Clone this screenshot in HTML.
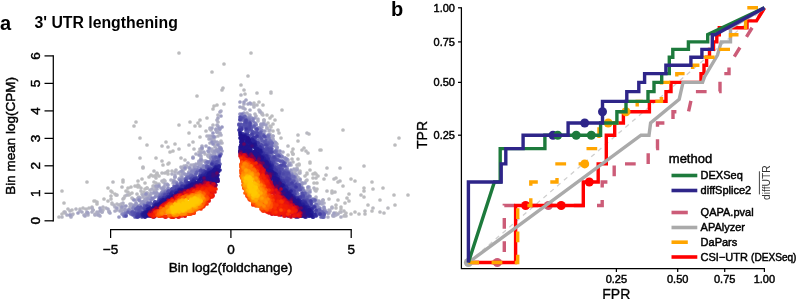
<!DOCTYPE html><html><head><meta charset="utf-8"><style>
html,body{margin:0;padding:0;background:#fff;width:800px;height:299px;overflow:hidden}
svg{display:block;filter:blur(0.35px)}
text{font-family:"Liberation Sans", sans-serif}
.t{stroke:#000;stroke-width:0.45px}
</style></head><body>
<svg width="800" height="299" viewBox="0 0 800 299">
<g stroke-linecap="round" stroke-width="3.70" fill="none">
<path stroke="#bcbcbe" d="M95 201h0M272 116h0M169 163h0M314 183h0M345 203h0M336 178h0M104 199h0M316 174h0M364 188h0M298 159h0M343 130h0M347 198h0M179 53h0M282 110h0M64 203h0M139 186h0M383 188h0M282 110h0M349 201h0M170 152h0M159 176h0M313 178h0M355 212h0M156 158h0M142 179h0M123 182h0M149 177h0M207 118h0M166 142h0M324 179h0M200 126h0M349 194h0M310 163h0M190 122h0M129 195h0M224 64h0M259 102h0M198 123h0M293 154h0M338 200h0M341 207h0M94 201h0M251 53h0M179 125h0M270 118h0M395 145h0M134 126h0M111 191h0M151 175h0M307 173h0M351 214h0M399 138h0M138 185h0M173 151h0M292 152h0M112 192h0M175 144h0M364 197h0M310 162h0M394 195h0M62 191h0M341 209h0M372 211h0M153 176h0M267 115h0M241 85h0M135 186h0M212 72h0M126 191h0M263 105h0M147 188h0M116 195h0M155 176h0M138 187h0M315 173h0M145 183h0M373 189h0M351 179h0M189 133h0M355 181h0M304 148h0M200 120h0M132 193h0M168 171h0M217 105h0M317 189h0M320 150h0M310 170h0M195 126h0M313 174h0M318 176h0M115 194h0M136 122h0M140 138h0M147 145h0M197 96h0M380 200h0M163 165h0M298 141h0M408 195h0M343 186h0M156 175h0M153 186h0M213 109h0M145 189h0M332 191h0M108 201h0M359 214h0M168 174h0M293 149h0M168 164h0M336 208h0M336 205h0M108 201h0M372 182h0M299 164h0M138 181h0M157 174h0M395 205h0M305 176h0M87 182h0M364 191h0M214 106h0M321 150h0M200 137h0M281 138h0M338 182h0M275 120h0M131 187h0M307 174h0M317 183h0M128 188h0M368 205h0M108 188h0M224 104h0"/>
<path stroke="#bbbbbf" d="M329 199h0M157 173h0M222 90h0M365 214h0M181 158h0M364 166h0M193 142h0M62 214h0M299 165h0M271 127h0M327 168h0M346 213h0M273 124h0M309 134h0M111 196h0M123 180h0M248 76h0M302 150h0M154 182h0M162 146h0M335 192h0M245 94h0M332 193h0M298 135h0M384 213h0M326 175h0M306 151h0M156 178h0M365 211h0M270 126h0M293 154h0M361 195h0M92 207h0M130 194h0M143 168h0M162 161h0M244 90h0M185 160h0M140 158h0M111 199h0M97 202h0"/>
<path stroke="#bababf" d="M271 93h0M125 196h0M308 153h0M143 167h0M340 181h0M141 188h0M162 173h0M271 92h0M122 187h0M179 149h0M340 212h0M300 171h0M168 147h0M323 200h0M206 131h0M380 212h0M113 182h0M154 171h0M292 159h0M340 168h0M257 93h0M334 179h0M273 131h0M59 217h0M223 88h0M80 209h0M128 192h0M165 173h0M64 212h0M316 178h0M72 210h0M327 191h0M345 215h0M167 172h0M97 204h0"/>
<path stroke="#babac0" d="M297 165h0M279 133h0M288 155h0M254 103h0M373 208h0M278 130h0M288 146h0M86 209h0M83 208h0M388 208h0M156 183h0M189 145h0M124 198h0M68 209h0M316 191h0M144 192h0M89 208h0M147 188h0M194 149h0M263 115h0M164 180h0"/>
<path stroke="#b9b9c0" d="M172 171h0M257 105h0M112 204h0M315 190h0M159 184h0M344 216h0M268 123h0M344 211h0M336 213h0M117 195h0M112 203h0M295 171h0M137 194h0M65 213h0M123 199h0"/>
<path stroke="#b8b8c1" d="M307 180h0M307 133h0M141 191h0M142 194h0M221 141h0M262 114h0M243 107h0M122 210h0M293 162h0M254 105h0M213 125h0M117 204h0M346 216h0M133 199h0M121 208h0"/>
<path stroke="#b6b6c2" d="M176 170h0M306 181h0M241 95h0M132 198h0M70 211h0M200 149h0M205 154h0M139 197h0M154 186h0M267 128h0M296 175h0M218 115h0M155 189h0M163 182h0M254 107h0M259 110h0M103 207h0M62 217h0M341 212h0M255 114h0M165 181h0M201 158h0M262 113h0M332 207h0M76 209h0M277 144h0M114 205h0M264 120h0M297 169h0M162 181h0M212 139h0M103 210h0M73 214h0M209 157h0M157 187h0M254 106h0M199 152h0M222 143h0"/>
<path stroke="#b3b3c2" d="M210 129h0M210 128h0M314 188h0M264 120h0M184 166h0M216 151h0M297 168h0M182 171h0M185 169h0M175 172h0M86 214h0M273 140h0M127 195h0M93 210h0M186 166h0M207 136h0M181 167h0M308 188h0M256 116h0M216 151h0M218 122h0M119 205h0M65 212h0M218 143h0M211 130h0M270 134h0M218 136h0M183 171h0M299 173h0M218 122h0M273 136h0M150 190h0M95 214h0M121 204h0M147 193h0M106 208h0M215 145h0M260 111h0"/>
<path stroke="#afafc4" d="M217 132h0M329 210h0M298 177h0M302 184h0M143 197h0M332 208h0M100 216h0M173 183h0M303 183h0M84 215h0M72 215h0M210 157h0M92 212h0M247 113h0M300 173h0M70 215h0M109 212h0M209 136h0M258 121h0M210 156h0M167 185h0M183 171h0M206 161h0M80 211h0M163 190h0M117 210h0M316 197h0M122 209h0M209 136h0M264 122h0M136 204h0M196 154h0M201 151h0M115 207h0M175 177h0M181 175h0M121 206h0M158 185h0M219 130h0M341 217h0M87 213h0M147 197h0M182 168h0M145 195h0M98 213h0M149 195h0M210 143h0M172 174h0M88 215h0M212 149h0M189 172h0M221 111h0M194 165h0M102 212h0M333 216h0M214 140h0M92 208h0M152 189h0M221 135h0M93 210h0M316 199h0M178 173h0M220 134h0M208 155h0M324 203h0M188 163h0M209 139h0M217 120h0"/>
<path stroke="#acacc4" d="M102 212h0M124 206h0M288 160h0M250 110h0M269 131h0M95 215h0M202 147h0M154 191h0M221 148h0M115 211h0M82 212h0M216 130h0M315 199h0M338 214h0M243 108h0M193 165h0M330 211h0M323 200h0M180 178h0M202 149h0M67 215h0M283 152h0M214 151h0M220 133h0M260 112h0M151 194h0M213 152h0M310 190h0M123 203h0M171 180h0M328 217h0M174 180h0M217 125h0M175 175h0M174 182h0M211 136h0M191 165h0M188 167h0M195 167h0M270 130h0M213 151h0M130 207h0M324 208h0M267 128h0M276 144h0M136 200h0M133 205h0M101 210h0M328 213h0M130 208h0M130 204h0M329 213h0M217 149h0M215 147h0M215 137h0M244 104h0M208 156h0M201 162h0M309 189h0M186 166h0M123 203h0M108 209h0M202 146h0M220 143h0M130 208h0M147 193h0M258 119h0M97 212h0M251 104h0M295 173h0M336 215h0M131 204h0M109 211h0M203 161h0M71 217h0M143 195h0M309 187h0M245 109h0M334 216h0M324 208h0M220 148h0M193 157h0"/>
<path stroke="#a6a6c4" d="M167 184h0M110 213h0M297 180h0M308 190h0M273 136h0M294 169h0M262 127h0M201 153h0M180 172h0M240 107h0M248 104h0M322 202h0M296 175h0M151 193h0M99 215h0M211 139h0M183 173h0M217 142h0M157 187h0M322 204h0M199 161h0M246 100h0M212 151h0M212 128h0M131 209h0M167 184h0M157 189h0M193 170h0M291 165h0M98 215h0M165 184h0M189 175h0M218 118h0M199 163h0M196 164h0M87 212h0M249 115h0M250 115h0M156 192h0M217 132h0M138 198h0M201 156h0M120 211h0M218 126h0M189 175h0M85 216h0M201 159h0M264 124h0M181 172h0M148 198h0M190 169h0M131 205h0M100 208h0M204 152h0M292 172h0M270 137h0M273 139h0M138 206h0M285 158h0M145 199h0M220 112h0M205 161h0M319 202h0M122 211h0M137 205h0M100 211h0M219 152h0M322 202h0M333 215h0M206 146h0M210 149h0M121 210h0M296 175h0M297 170h0M164 187h0M174 182h0"/>
<path stroke="#a0a0c3" d="M125 209h0M215 156h0M250 103h0M328 213h0M220 147h0M266 125h0M216 129h0M214 154h0M318 201h0M221 116h0M244 113h0M255 118h0M289 164h0M276 143h0M268 135h0M164 187h0M195 166h0M136 208h0M135 206h0M244 102h0M296 175h0M176 182h0M125 210h0M290 163h0M183 174h0M305 191h0M146 199h0M174 181h0M300 179h0M140 198h0M305 183h0M192 171h0M213 136h0M211 155h0M156 186h0M200 165h0M285 163h0M334 213h0M215 154h0M240 102h0M209 152h0M78 213h0M126 212h0M144 201h0M302 184h0M150 196h0M199 155h0M214 154h0M201 164h0M149 198h0M261 124h0M158 195h0M179 179h0M176 182h0M222 151h0M199 164h0M319 201h0M189 172h0M161 188h0M199 162h0M287 161h0M215 142h0M117 208h0M88 213h0M175 177h0M70 215h0M214 153h0"/>
<path stroke="#9898c2" d="M190 168h0M222 127h0M143 202h0M122 207h0M300 180h0M277 147h0M213 133h0M258 128h0M202 148h0M303 188h0M305 192h0M263 124h0M193 158h0M265 131h0M220 129h0M319 204h0M169 190h0M182 177h0M122 214h0M194 168h0M159 186h0M215 151h0M274 143h0M261 127h0M210 162h0M182 171h0M147 201h0M147 201h0M126 206h0M278 153h0M278 151h0M136 203h0M119 217h0M275 142h0M295 177h0M252 118h0M291 170h0M208 151h0M206 162h0M325 210h0M302 183h0M219 150h0M186 175h0M157 193h0M217 150h0M285 162h0M154 193h0M163 189h0M219 128h0M165 190h0M142 202h0M287 159h0M269 139h0M261 125h0M140 201h0M147 201h0M136 205h0M275 146h0M185 174h0M134 207h0M148 199h0M164 191h0M188 176h0M156 196h0M168 185h0"/>
<path stroke="#9292c1" d="M191 173h0M240 114h0M218 145h0M308 193h0M220 148h0M165 191h0M277 148h0M129 211h0M146 194h0M134 200h0M194 173h0M185 168h0M214 137h0M280 151h0M143 202h0M250 117h0M188 174h0M168 188h0M324 207h0M256 124h0M169 189h0M324 208h0M201 160h0M209 148h0M310 192h0M218 152h0M211 157h0M263 131h0M146 203h0M134 206h0M289 165h0M182 179h0M140 205h0M213 144h0M142 203h0M250 117h0M185 179h0M310 196h0M301 186h0M308 187h0M128 210h0M285 158h0M198 167h0M247 118h0M212 142h0M203 166h0M189 174h0M174 182h0M269 141h0M196 170h0"/>
<path stroke="#8a8ac0" d="M123 214h0M139 200h0M282 156h0M134 208h0M286 159h0M211 159h0M248 118h0M272 143h0M261 130h0M315 201h0M155 197h0M192 172h0M280 154h0M209 162h0M296 179h0M211 160h0M182 180h0M160 194h0M264 134h0M289 173h0M129 210h0M213 159h0M206 163h0M168 189h0M189 174h0M221 149h0M214 159h0M276 150h0M314 200h0M153 199h0M190 175h0M317 205h0M299 184h0M162 192h0M249 119h0M192 173h0"/>
<path stroke="#8484bf" d="M211 163h0M287 169h0M204 168h0M285 163h0M283 169h0M293 177h0M270 142h0M133 208h0M180 180h0M303 190h0M168 192h0M269 135h0M192 171h0M293 177h0M283 161h0M201 168h0M152 198h0M209 163h0M307 194h0M320 208h0M300 185h0M197 170h0M249 119h0M292 174h0M295 177h0M326 212h0M293 178h0M299 185h0M206 167h0M310 197h0M133 214h0M245 117h0M151 200h0M204 166h0M179 185h0M253 119h0M292 175h0M169 192h0M125 213h0M195 170h0M318 207h0M185 179h0M261 130h0M195 171h0M259 128h0M283 167h0"/>
<path stroke="#7c7bbc" d="M181 182h0M311 201h0M273 158h0M298 186h0M314 201h0M130 213h0M196 172h0M304 194h0M175 187h0M271 141h0M250 121h0M255 123h0M289 172h0M324 217h0M287 167h0M276 152h0M177 183h0M138 210h0M265 142h0M139 209h0M285 163h0M207 162h0M244 117h0M309 199h0M242 114h0M206 166h0M196 173h0M131 213h0M282 157h0M147 207h0M214 159h0M287 167h0M253 121h0M218 157h0M133 211h0M219 155h0M287 169h0M323 211h0M282 176h0M281 157h0M267 137h0M280 167h0M264 136h0M268 155h0M324 212h0M170 191h0M274 162h0M269 138h0M168 193h0M310 200h0M254 127h0M192 176h0M293 180h0M261 140h0M288 172h0M270 154h0M282 166h0M249 120h0M198 170h0M311 202h0M163 194h0M313 199h0M271 157h0M289 172h0M212 163h0M298 194h0M296 193h0M303 190h0M294 179h0M254 126h0M256 125h0M241 117h0M297 182h0M174 188h0M287 170h0"/>
<path stroke="#7272b9" d="M269 142h0M263 135h0M159 197h0M302 188h0M283 176h0M252 132h0M186 180h0M149 206h0M291 180h0M312 200h0M165 192h0M268 149h0M283 166h0M124 216h0M251 124h0M160 196h0M320 210h0M253 134h0M126 215h0M286 170h0M245 120h0M208 162h0M258 140h0M278 160h0M269 155h0M159 197h0M312 201h0M271 148h0M268 136h0M126 214h0M249 121h0M161 195h0M163 194h0M320 212h0M301 189h0M304 194h0M300 188h0M274 152h0M324 214h0M316 204h0M136 209h0M210 166h0M247 120h0M312 202h0M213 157h0M264 142h0M323 217h0M136 212h0M125 216h0M144 205h0M283 170h0M304 196h0M243 117h0M276 153h0M270 141h0M246 119h0M214 157h0M261 135h0M250 124h0M147 205h0M285 175h0M272 143h0M297 195h0M284 171h0M268 148h0M193 176h0M249 123h0M276 151h0M293 176h0M190 177h0M179 185h0M187 178h0M249 127h0M187 177h0M289 176h0M216 158h0M276 159h0M285 183h0M182 184h0M191 175h0M267 147h0M172 189h0M208 167h0M253 133h0"/>
<path stroke="#6a68b5" d="M301 188h0M277 164h0M322 212h0M272 143h0M307 198h0M286 175h0M291 177h0M272 151h0M148 203h0M245 116h0M251 127h0M138 209h0M294 177h0M283 162h0M288 172h0M128 212h0M174 186h0M272 149h0M297 192h0M270 143h0M304 194h0M293 189h0M179 187h0M141 209h0M189 177h0M168 193h0M293 185h0M278 155h0M291 176h0M260 135h0M136 215h0M275 159h0M151 203h0M271 144h0M275 152h0M207 166h0M291 176h0M159 199h0M140 209h0M305 195h0M131 214h0M177 185h0M278 171h0M320 211h0M264 150h0M193 179h0M264 150h0M245 122h0M279 174h0M321 215h0M261 132h0M310 201h0M261 144h0M267 157h0M316 211h0M299 185h0M213 161h0M285 172h0M204 171h0M319 210h0M242 120h0M139 212h0M272 155h0M258 141h0M250 129h0M187 179h0M278 159h0M252 134h0M290 182h0M213 165h0M271 155h0M302 196h0M214 159h0M293 187h0M263 135h0M293 187h0M309 196h0M304 195h0M169 191h0M133 212h0M272 146h0M221 154h0M148 204h0M192 176h0M321 217h0M288 180h0M219 162h0M195 176h0M140 211h0M284 165h0M267 144h0M241 119h0M212 164h0"/>
<path stroke="#605fb2" d="M266 140h0M247 125h0M181 183h0M182 184h0M254 132h0M303 195h0M168 191h0M287 181h0M305 193h0M297 188h0M249 122h0M168 193h0M136 209h0M286 171h0M295 186h0M191 178h0M244 125h0M248 131h0M204 172h0M293 182h0M262 139h0M254 126h0M258 134h0M317 210h0M212 163h0M263 146h0M275 160h0M150 203h0M270 147h0M319 210h0M324 215h0M298 187h0M161 197h0M186 179h0M286 172h0M197 172h0M266 149h0M282 161h0M280 171h0M266 144h0M138 207h0M300 189h0M303 197h0M247 124h0M251 129h0M269 148h0M249 127h0M207 166h0M272 163h0M145 208h0M137 213h0M299 185h0M135 217h0M219 158h0M277 168h0M219 159h0M266 152h0M274 157h0M218 163h0M215 163h0M283 175h0M216 157h0M257 134h0M196 174h0M307 199h0M219 160h0M304 204h0M274 167h0M286 179h0M263 141h0M271 152h0M321 214h0M151 204h0M262 141h0M257 132h0M281 169h0M305 199h0M290 182h0M323 213h0M290 180h0M247 133h0M255 139h0M307 197h0M256 133h0M240 128h0M141 208h0M276 158h0M220 164h0M281 161h0M251 127h0M248 126h0M298 189h0M322 215h0M296 198h0M174 188h0M260 133h0M163 195h0M289 176h0M214 166h0M315 200h0M303 195h0M163 196h0M245 121h0M276 156h0M317 215h0M266 144h0M284 177h0M293 190h0M323 217h0M137 213h0M269 152h0M268 143h0"/>
<path stroke="#5956af" d="M280 177h0M307 206h0M289 174h0M257 130h0M258 134h0M274 164h0M254 138h0M184 185h0M294 194h0M265 142h0M159 200h0M256 129h0M147 209h0M294 181h0M170 193h0M286 177h0M300 190h0M291 189h0M305 204h0M286 177h0M280 161h0M249 136h0M296 191h0M268 150h0M139 210h0M277 160h0M293 181h0M148 205h0M165 194h0M141 212h0M293 187h0M297 190h0M216 162h0M177 186h0M193 177h0M172 189h0M290 179h0M215 165h0M265 137h0M287 176h0M144 209h0M182 184h0M308 207h0M272 161h0M247 130h0M296 188h0M256 137h0M246 131h0M302 195h0M265 144h0M291 187h0M196 178h0M245 127h0M279 156h0M141 207h0M293 188h0M207 171h0M268 149h0M293 192h0M187 183h0M288 175h0M132 212h0M324 214h0M291 188h0M304 199h0M268 145h0M259 143h0M279 172h0M307 204h0M267 155h0M192 180h0M285 179h0M246 125h0M318 213h0M269 150h0M181 186h0M310 206h0M182 186h0M299 187h0M271 165h0M265 151h0M139 212h0M288 187h0M259 137h0M311 203h0M217 162h0M283 178h0M207 168h0M251 128h0M260 137h0M303 197h0M145 206h0M133 215h0M320 214h0M239 124h0M295 189h0M243 118h0M312 206h0M299 186h0M154 204h0M249 125h0M275 159h0M265 142h0M126 216h0M249 124h0M275 163h0M304 203h0M266 155h0M245 127h0M169 191h0M185 182h0M283 173h0M200 174h0M208 167h0M256 129h0M213 162h0M289 176h0M316 214h0M281 166h0M186 182h0M280 176h0M252 135h0M279 156h0M314 206h0M292 190h0M261 138h0M287 186h0M200 171h0M163 197h0M241 124h0"/>
<path stroke="#524fac" d="M215 164h0M241 118h0M140 213h0M206 172h0M272 159h0M274 166h0M271 163h0M303 198h0M302 197h0M280 173h0M168 192h0M286 173h0M157 202h0M291 186h0M270 149h0M279 172h0M246 121h0M288 183h0M264 136h0M294 190h0M286 175h0M284 163h0M202 172h0M261 145h0M293 187h0M199 177h0M254 133h0M195 178h0M211 168h0M135 213h0M196 178h0M269 161h0M316 211h0M284 183h0M307 202h0M257 129h0M271 158h0M273 164h0M213 163h0M240 128h0M270 162h0M285 166h0M269 158h0M155 202h0M209 168h0M272 152h0M291 191h0M216 164h0M293 194h0M306 203h0M274 166h0M171 194h0M175 187h0M240 119h0M284 172h0M246 126h0M136 214h0M277 168h0M307 202h0M302 193h0M303 195h0M214 166h0M296 184h0M276 167h0M288 173h0M289 183h0M288 179h0M172 189h0M280 175h0M267 148h0M160 198h0M246 124h0M275 159h0M239 125h0M279 166h0M293 188h0M285 182h0M279 166h0M307 200h0M278 168h0M209 168h0M282 178h0M240 117h0M144 208h0M280 172h0M282 169h0M194 181h0M271 149h0M273 161h0M248 132h0M135 214h0M300 197h0M176 190h0M242 127h0M167 195h0M192 180h0M287 184h0M252 131h0M277 167h0M310 201h0M168 196h0M280 167h0M217 161h0M241 130h0M257 133h0M179 192h0M265 149h0M249 136h0M308 207h0M290 184h0M188 183h0M180 188h0M139 216h0M171 191h0M164 198h0M201 170h0M244 124h0M204 171h0"/>
<path stroke="#4b47a9" d="M289 179h0M205 171h0M166 196h0M166 197h0M192 181h0M141 214h0M246 120h0M287 183h0M276 168h0M250 123h0M286 184h0M177 190h0M282 165h0M162 199h0M178 187h0M284 183h0M263 149h0M290 184h0M285 180h0M178 187h0M266 145h0M282 179h0M191 179h0M303 196h0M289 183h0M264 150h0M177 187h0M249 129h0M294 185h0M274 157h0M139 216h0M298 198h0M164 197h0M263 151h0M273 167h0M248 128h0M192 180h0M279 174h0M292 194h0M269 152h0M278 171h0M279 169h0M287 178h0M307 207h0M271 162h0M250 125h0M208 171h0M295 194h0M203 171h0M267 154h0M280 179h0M283 174h0M273 162h0M315 207h0M300 198h0M268 149h0M299 198h0M167 195h0M163 201h0M275 167h0M217 165h0M137 215h0M267 158h0M249 128h0M242 134h0M155 202h0M196 178h0M262 145h0M165 195h0M173 191h0M150 207h0M265 151h0M260 151h0M258 143h0M241 127h0M174 191h0M186 181h0M175 191h0M267 156h0M247 133h0M163 200h0M209 169h0M269 156h0M295 194h0M240 120h0M281 165h0M248 135h0M145 209h0M271 152h0M246 122h0"/>
<path stroke="#443fa6" d="M311 201h0M305 201h0M138 214h0M285 187h0M262 151h0M292 190h0M293 195h0M299 198h0M216 168h0M276 171h0M290 189h0M193 180h0M311 209h0M320 214h0M142 217h0M284 181h0M147 206h0M162 199h0M209 171h0M303 202h0M271 163h0M300 197h0M216 165h0M272 164h0M140 215h0M277 175h0M288 185h0M187 183h0M209 169h0M252 138h0M188 183h0M303 202h0M287 181h0M258 143h0M266 154h0M169 195h0M269 161h0M294 191h0M264 153h0M155 202h0M289 189h0M213 169h0M247 136h0M280 177h0M262 150h0M294 194h0M262 148h0M297 199h0M259 146h0M255 138h0M154 204h0M264 155h0M280 172h0M253 138h0M149 209h0M302 203h0M316 210h0M160 200h0M138 217h0M283 181h0M252 138h0M307 204h0M278 173h0M211 169h0M179 190h0M284 184h0M252 134h0M220 156h0M165 199h0M292 183h0M163 198h0M286 181h0M306 205h0M206 172h0M288 189h0M311 204h0M243 134h0M296 200h0M257 143h0M258 146h0"/>
<path stroke="#3d38a3" d="M274 168h0M143 212h0M188 183h0M217 166h0M306 206h0M274 172h0M283 181h0M142 215h0M264 155h0M203 175h0M276 174h0M268 158h0M215 167h0M280 180h0M272 165h0M219 166h0M149 207h0M212 164h0M262 152h0M267 160h0M184 186h0M246 129h0M176 190h0M181 190h0M137 217h0M242 129h0M300 200h0M211 171h0M251 141h0M257 136h0M276 170h0M149 207h0M168 196h0M274 169h0M306 208h0M296 187h0M179 190h0M257 143h0M247 135h0M145 216h0M275 172h0M271 163h0M149 208h0M169 194h0M169 197h0M145 217h0M278 180h0M262 155h0M247 149h0M193 183h0M268 162h0M274 170h0M176 193h0M201 176h0M241 134h0M292 194h0M270 170h0M148 207h0M314 207h0M286 187h0M205 172h0M279 174h0M254 137h0M312 216h0M158 202h0M146 210h0M204 176h0M148 209h0M184 187h0M298 198h0M194 182h0M240 132h0M302 202h0M289 192h0M313 217h0M139 216h0M312 211h0M278 177h0M304 204h0M250 139h0M272 165h0M308 208h0M299 203h0M275 172h0M281 182h0M275 171h0M265 156h0M290 193h0M289 193h0M155 206h0M158 203h0M184 187h0M255 141h0M263 154h0"/>
<path stroke="#3731a0" d="M244 134h0M189 183h0M203 174h0M306 209h0M308 216h0M283 183h0M305 216h0M265 156h0M161 201h0M301 203h0M249 140h0M307 205h0M193 181h0M219 167h0M191 182h0M172 194h0M182 186h0M249 140h0M174 192h0M216 168h0M179 189h0M312 209h0M192 183h0M303 201h0M206 172h0M275 174h0M305 202h0M285 188h0M203 176h0M206 173h0M193 181h0M164 198h0M159 202h0M308 210h0M254 147h0M288 192h0M179 191h0M215 167h0M239 130h0M295 197h0M241 133h0M266 158h0M254 144h0M280 180h0M290 193h0M310 208h0M265 157h0M302 205h0M286 189h0M284 183h0M263 153h0M194 179h0M267 156h0M250 142h0M279 181h0M308 209h0M266 158h0M286 186h0M313 217h0M269 163h0M196 179h0M288 191h0M306 217h0M301 203h0M287 191h0M194 180h0M269 165h0M244 137h0M191 184h0M281 184h0M200 176h0M147 210h0M315 216h0M206 175h0M192 183h0M154 207h0M260 147h0M181 188h0M218 167h0M142 215h0M203 175h0M172 193h0M297 198h0M258 148h0M268 161h0M157 203h0M308 208h0M176 191h0M188 185h0M167 198h0M302 202h0M274 172h0M246 140h0M316 216h0M266 163h0M282 189h0M184 189h0M245 136h0M145 216h0M272 165h0M262 157h0"/>
<path stroke="#302a9c" d="M161 200h0M272 166h0M268 166h0M217 169h0M286 187h0M210 173h0M209 170h0M245 135h0M287 188h0M278 179h0M213 170h0M307 213h0M315 214h0M208 175h0M158 206h0M167 197h0M200 179h0M258 149h0M242 135h0M312 215h0M171 196h0M267 160h0M209 172h0M209 172h0M171 195h0M261 152h0M144 216h0M185 187h0M252 139h0M195 182h0M164 200h0M269 162h0M253 145h0M277 176h0M144 213h0M302 203h0M244 137h0M213 174h0M275 178h0M258 151h0M181 189h0M261 150h0M194 184h0M271 165h0M274 173h0M275 174h0M250 152h0M312 209h0M307 209h0M295 198h0M163 200h0M301 204h0M288 191h0M305 203h0M267 159h0M214 170h0M289 193h0M309 215h0M310 210h0M172 192h0M257 149h0M308 208h0M142 214h0M245 136h0M163 200h0M181 189h0M211 171h0M188 188h0M178 192h0M243 135h0M259 151h0M278 177h0M146 213h0M255 145h0M309 212h0M261 150h0M313 217h0M266 156h0M177 192h0M268 170h0M298 199h0M212 170h0M305 216h0M193 181h0M147 215h0M251 141h0M246 135h0M268 159h0M272 168h0M284 189h0M219 167h0M289 196h0M274 174h0M176 193h0M247 138h0M144 213h0M281 182h0M255 144h0M250 151h0M280 181h0M285 187h0M313 215h0"/>
<path stroke="#282298" d="M305 206h0M178 192h0M305 207h0M196 183h0M304 211h0M275 177h0M266 160h0M309 216h0M255 145h0M271 166h0M212 178h0M158 204h0M277 184h0M247 151h0M268 166h0M272 174h0M300 201h0M272 171h0M214 171h0M309 214h0M169 198h0M149 211h0M155 205h0M300 203h0M143 215h0M214 183h0M245 149h0M219 171h0M296 204h0M284 186h0M291 198h0M295 202h0M268 168h0M307 207h0M251 140h0M207 173h0M248 141h0M202 176h0M206 175h0M309 213h0M256 153h0M290 192h0M163 200h0M309 211h0M255 142h0M171 194h0M280 187h0M204 179h0M211 174h0M189 187h0M210 173h0M246 146h0M284 187h0M271 177h0M267 166h0M285 192h0M209 174h0M205 175h0M308 207h0M258 152h0M303 204h0M246 144h0M305 206h0M179 190h0M284 189h0M307 215h0M150 208h0M220 170h0M199 181h0M189 186h0M270 168h0M241 135h0M219 166h0M263 156h0M307 212h0M269 169h0M257 149h0M265 166h0M258 152h0M190 184h0M293 198h0M169 200h0M159 204h0M207 179h0M281 188h0M241 137h0M291 191h0M281 186h0M267 165h0M242 138h0M146 216h0M146 214h0M169 197h0M253 145h0M283 186h0M303 209h0M254 143h0M256 146h0M194 181h0M154 206h0M209 175h0M200 182h0M211 172h0M252 153h0M205 177h0M277 179h0M216 171h0M293 196h0M310 214h0M177 194h0M283 186h0M306 213h0M218 168h0M190 185h0M254 152h0M300 207h0M293 197h0M156 204h0M176 196h0M265 160h0M310 215h0M186 186h0M159 205h0M240 135h0M260 151h0M253 140h0M271 167h0M206 177h0M312 212h0M193 182h0M307 208h0M172 196h0M263 161h0M265 164h0"/>
<path stroke="#221c94" d="M169 197h0M298 203h0M153 208h0M207 179h0M204 183h0M209 178h0M310 216h0M216 167h0M145 217h0M180 190h0M172 196h0M305 217h0M213 178h0M258 150h0M213 171h0M276 174h0M266 166h0M306 214h0M192 187h0M205 177h0M271 169h0M307 212h0M305 210h0M145 212h0M149 210h0M246 138h0M212 172h0M249 142h0M286 194h0M286 192h0M162 201h0M253 153h0M145 212h0M163 200h0M241 136h0M270 166h0M303 205h0M284 190h0M303 206h0M254 155h0M274 178h0M152 209h0M272 172h0M270 167h0M261 159h0M282 187h0M280 183h0M277 179h0M304 209h0M145 215h0M275 174h0M251 145h0M189 188h0M149 214h0M210 177h0M261 158h0M259 154h0M244 147h0M211 172h0M301 210h0M258 149h0M267 167h0M306 207h0M244 138h0M254 152h0M258 158h0M211 178h0M309 215h0M269 169h0M211 173h0M144 216h0M244 137h0M284 191h0M247 148h0M213 180h0M242 141h0M277 185h0M269 164h0M276 176h0M262 162h0M249 142h0M283 188h0M243 142h0M293 202h0M267 163h0M148 209h0M250 146h0M269 164h0M158 205h0M289 199h0M215 169h0M284 189h0M264 158h0M310 214h0M246 145h0M265 163h0M243 148h0M206 177h0M261 152h0M279 185h0M304 207h0M177 193h0M291 197h0M260 150h0M300 204h0M208 178h0M143 214h0M312 213h0M308 215h0M294 198h0M146 216h0M251 150h0M201 179h0M243 142h0M294 200h0M248 140h0M286 194h0M143 215h0M143 215h0M255 155h0M216 177h0M241 142h0M146 214h0M291 199h0M306 215h0M279 190h0M255 153h0M209 181h0M215 182h0M274 178h0M276 176h0M209 179h0M279 181h0M259 156h0M214 182h0"/>
<path stroke="#1e1791" d="M198 185h0M280 189h0M242 148h0M183 190h0M250 150h0M244 137h0M247 146h0M311 215h0M147 212h0M149 211h0M255 144h0M214 170h0M257 149h0M283 185h0M276 179h0M246 144h0M213 172h0M258 161h0M213 175h0M288 195h0M241 137h0M252 146h0M145 214h0M206 183h0M208 175h0M294 202h0M246 138h0M309 214h0M298 202h0M256 149h0M274 175h0M161 202h0M241 145h0M165 202h0M294 199h0M164 200h0M196 183h0M208 181h0M242 139h0M198 182h0M270 176h0M274 183h0M248 148h0M277 180h0M275 178h0M208 180h0M150 213h0M242 145h0M305 208h0M254 157h0M273 178h0M249 147h0M286 192h0M269 166h0M265 161h0M209 173h0M309 211h0M258 157h0M294 201h0M177 193h0M256 155h0M277 185h0M179 192h0M248 138h0M280 185h0M292 204h0M291 196h0M257 153h0M244 150h0M154 209h0M207 179h0M254 161h0M176 193h0M245 146h0M253 158h0M287 192h0M209 184h0M255 148h0M279 187h0M240 133h0M267 170h0M204 181h0M243 152h0M299 203h0M299 202h0M215 180h0M306 210h0M242 145h0M188 186h0M298 200h0M250 151h0M261 157h0M251 143h0M144 214h0M278 186h0M210 178h0M208 178h0M277 180h0M279 187h0M217 170h0M215 177h0M247 151h0M244 156h0M145 215h0M309 210h0M203 182h0M189 186h0M194 184h0M290 199h0M286 195h0M306 214h0M290 198h0M275 179h0M241 136h0M254 156h0M255 145h0M253 153h0M284 193h0M201 178h0M264 164h0M257 154h0M214 180h0M167 199h0M260 155h0M292 199h0M275 180h0M306 210h0M265 165h0M198 182h0M191 185h0M269 170h0M241 138h0M271 171h0M299 202h0M262 164h0M148 212h0M202 184h0M255 151h0M283 194h0M297 203h0M215 171h0M291 200h0M188 187h0M256 152h0M204 184h0M251 153h0M306 214h0M282 192h0M147 215h0M147 215h0M212 176h0M162 203h0M215 183h0M304 212h0M283 191h0M195 184h0M157 206h0M212 180h0M260 163h0M246 141h0M244 144h0M249 140h0M274 177h0M293 202h0M260 151h0M212 176h0M246 150h0M304 213h0M292 199h0M248 151h0M303 216h0M254 156h0M242 151h0M249 151h0M212 176h0M268 174h0M249 143h0"/>
<path stroke="#201590" d="M266 164h0M265 163h0M215 177h0M209 175h0M242 145h0M292 198h0M312 216h0M252 145h0M298 204h0M243 147h0M205 179h0M244 137h0M212 172h0M286 190h0M245 136h0M256 156h0M277 183h0M280 191h0M251 154h0M278 187h0M252 155h0M255 158h0M148 215h0M146 213h0M211 183h0M265 171h0M246 138h0M218 179h0M272 172h0M196 185h0M253 158h0M248 150h0M247 139h0M281 189h0M159 204h0M242 148h0M148 214h0M270 172h0M252 155h0M199 180h0M249 146h0M268 175h0M170 198h0M287 193h0M281 194h0M274 173h0M253 145h0M218 172h0M293 202h0M243 140h0M217 177h0M294 202h0M252 145h0M216 176h0M274 182h0M276 183h0M241 142h0M254 156h0M247 140h0M246 152h0M299 207h0M147 215h0M307 213h0M268 166h0M249 140h0M159 208h0M248 150h0M162 203h0M245 148h0M241 140h0M286 194h0M218 175h0M304 210h0M286 194h0M258 157h0M206 182h0M275 183h0M211 173h0M171 198h0M304 212h0M161 203h0M149 212h0M243 147h0M240 138h0M250 155h0M291 195h0M215 180h0M153 208h0M267 164h0M271 176h0M191 186h0M215 171h0M248 147h0M250 146h0M156 205h0M300 210h0M300 207h0M295 204h0M301 208h0M173 197h0M280 188h0M301 209h0M262 157h0M217 177h0M275 181h0M298 204h0M297 202h0M189 190h0M256 154h0M276 179h0M304 207h0M296 203h0M217 181h0M286 195h0M242 151h0M303 211h0M282 191h0M245 148h0M254 145h0M301 210h0M202 183h0M300 207h0M214 173h0M190 188h0M275 182h0M207 180h0M271 177h0M295 200h0M267 164h0M268 173h0M253 159h0M244 147h0M247 139h0M267 168h0M183 191h0M286 198h0M275 181h0M146 214h0M251 148h0M196 183h0M308 210h0M300 205h0M296 206h0M194 187h0M265 165h0M198 183h0M258 160h0M216 172h0M275 181h0M197 186h0M242 146h0M269 171h0M293 205h0M286 198h0M164 203h0M215 169h0M257 153h0M240 152h0M263 165h0M260 163h0M183 191h0M192 188h0M306 211h0M180 191h0M268 167h0M204 179h0M210 176h0M286 192h0M252 144h0M203 182h0M272 177h0M282 185h0M275 182h0M295 203h0"/>
<path stroke="#21138e" d="M253 145h0M197 186h0M271 180h0M304 212h0M249 154h0M280 187h0M169 200h0M297 204h0M215 181h0M297 202h0M278 179h0M250 144h0M310 215h0M296 201h0M161 204h0M257 157h0M199 184h0M291 201h0M276 186h0M252 152h0M215 180h0M277 188h0M208 180h0M201 179h0M184 191h0M242 150h0M276 184h0M193 186h0M296 203h0M307 211h0M243 136h0M246 148h0M211 177h0M190 186h0M251 145h0M296 204h0M178 195h0M200 184h0M304 212h0M303 213h0M303 208h0M152 211h0M289 193h0M263 163h0M218 170h0M214 176h0M270 173h0M198 185h0M194 187h0M241 136h0M255 151h0M271 177h0M310 210h0M147 212h0M277 182h0M242 144h0M287 197h0M270 179h0M215 173h0M275 178h0M247 147h0M218 181h0M214 182h0M246 152h0M262 163h0M186 188h0M241 151h0M306 214h0M241 151h0M257 155h0M148 213h0M287 199h0M204 184h0M269 182h0M158 206h0M240 150h0M215 181h0M292 201h0M240 148h0M280 187h0M211 180h0M303 207h0M206 179h0M210 181h0M259 156h0M272 172h0M216 177h0M275 184h0M265 169h0M305 211h0M264 170h0M246 153h0M299 207h0M302 216h0M214 177h0M240 147h0M292 200h0M283 195h0M210 177h0M204 178h0M150 213h0M296 208h0M301 208h0M270 176h0M296 204h0M185 191h0M212 178h0M159 205h0M275 182h0M156 207h0M284 195h0M196 186h0M289 197h0M298 207h0M247 150h0M258 154h0M242 148h0M204 180h0M255 156h0M299 209h0M215 182h0M167 200h0M267 168h0M276 189h0M212 183h0M202 185h0M273 183h0M147 213h0"/>
<path stroke="#22118d" d="M300 211h0M267 162h0M303 213h0M248 156h0M274 178h0M242 141h0M192 184h0M289 199h0M242 140h0M175 195h0M241 145h0M262 159h0M291 197h0M302 213h0M273 183h0M202 185h0M265 168h0M284 199h0M160 204h0M269 176h0M283 192h0M268 172h0M245 155h0M149 215h0M177 196h0M280 191h0M299 209h0M286 197h0M263 163h0M281 192h0M158 207h0M259 163h0M248 156h0M275 192h0M164 204h0M293 201h0M199 186h0M162 204h0M173 198h0M150 215h0M260 161h0M268 165h0M268 170h0M183 193h0M274 182h0M190 187h0M303 208h0M160 205h0M166 202h0M248 141h0M193 186h0M262 160h0M271 178h0M244 144h0M247 155h0M194 187h0M207 178h0M249 151h0M217 177h0M189 189h0M260 161h0M240 152h0M243 143h0M148 216h0M277 188h0M286 199h0M275 188h0M252 160h0M262 158h0M294 203h0M248 138h0M194 186h0M211 180h0M287 194h0M290 200h0M261 163h0M194 186h0M185 190h0M249 154h0M162 203h0M178 194h0M242 144h0M285 199h0M217 177h0M267 169h0M301 216h0M173 196h0M270 178h0M197 183h0M274 181h0M276 181h0M241 146h0M186 191h0M280 194h0M247 151h0M281 187h0M249 153h0M254 158h0M250 156h0M182 190h0M261 167h0M262 165h0M294 206h0M174 196h0M302 213h0M277 191h0M246 154h0M264 171h0M279 190h0M246 151h0M299 208h0M296 204h0M259 161h0M153 210h0M198 185h0M251 157h0M302 210h0M263 171h0M284 198h0M273 186h0M215 185h0"/>
<path stroke="#370d7e" d="M278 190h0M279 186h0M169 200h0M201 186h0M275 188h0M279 186h0M295 207h0M176 196h0M168 201h0M206 181h0M252 156h0M292 198h0M264 173h0M168 200h0M298 216h0M204 181h0M240 151h0M250 156h0M204 182h0M296 217h0M213 174h0M189 189h0M280 194h0M155 209h0M267 167h0M297 207h0M255 161h0M248 158h0M259 157h0M199 185h0M213 176h0M182 192h0M175 197h0M284 193h0M211 183h0M274 185h0M277 189h0M298 217h0M216 175h0M191 188h0M305 216h0M293 205h0M279 188h0M273 184h0M256 162h0M277 190h0M152 212h0M296 207h0M270 178h0M265 166h0M290 201h0M280 183h0M218 181h0M295 204h0M195 187h0M275 191h0M202 184h0M274 190h0M265 172h0M275 183h0M157 208h0M181 194h0M252 146h0M243 157h0M249 158h0M304 212h0M212 183h0M184 192h0M303 214h0M291 206h0M154 217h0M261 162h0M199 184h0M198 187h0M262 171h0M296 207h0M265 172h0M293 214h0M151 212h0M250 159h0M302 215h0M152 214h0M276 188h0M151 216h0M195 185h0M282 195h0M242 153h0M273 184h0M298 211h0M272 174h0M249 157h0"/>
<path stroke="#620663" d="M204 178h0M290 203h0M291 203h0M185 191h0M197 186h0M258 160h0M263 163h0M277 191h0M297 209h0M216 185h0M270 174h0M156 210h0M168 201h0M301 208h0M175 196h0M296 208h0M297 207h0M275 188h0M194 189h0M268 178h0M264 169h0M269 177h0M156 208h0M268 174h0M241 152h0M270 178h0M284 199h0M197 187h0M254 161h0M180 192h0M203 185h0M217 173h0M249 156h0M203 184h0M159 209h0M265 173h0M264 169h0M244 144h0M204 183h0M278 192h0M183 194h0M185 193h0M274 188h0M297 207h0M197 185h0M177 197h0M277 186h0M283 199h0M293 206h0M300 212h0M259 159h0M201 185h0M165 203h0M163 205h0M210 184h0M285 199h0M269 178h0M159 208h0M253 157h0M154 211h0M263 170h0M188 190h0M189 192h0M211 183h0M294 207h0M194 188h0M271 184h0M270 177h0M184 191h0M291 200h0M281 194h0M254 158h0M151 212h0M251 159h0M195 186h0M264 170h0M195 189h0M264 170h0M290 203h0M150 216h0M242 155h0M288 201h0M301 215h0M288 216h0M259 167h0M246 154h0M248 157h0M152 210h0M151 212h0M208 184h0M156 209h0M176 196h0M173 198h0M251 154h0M171 199h0M244 156h0M202 186h0"/>
<path stroke="#8c0048" d="M168 200h0M300 213h0M300 216h0M210 183h0M183 193h0M252 159h0M277 191h0M192 192h0M295 209h0M189 192h0M254 159h0M252 156h0M291 206h0M266 173h0M297 207h0M202 186h0M182 193h0M276 188h0M169 201h0M270 176h0M163 205h0M150 215h0M280 193h0M215 186h0M212 184h0M260 163h0M272 185h0M278 191h0M301 213h0M194 188h0M258 162h0M261 165h0M183 194h0M259 165h0M248 158h0M175 196h0M291 205h0M185 194h0M243 155h0M152 216h0M257 162h0M156 208h0M294 216h0M241 155h0M293 205h0M155 216h0M292 209h0M161 206h0M180 196h0M299 211h0M150 212h0M214 184h0M275 188h0M211 185h0M276 211h0M280 193h0M268 179h0M209 183h0M266 174h0M163 205h0M179 216h0M195 189h0M281 214h0M277 192h0M212 184h0M298 208h0M250 158h0M164 204h0M185 191h0M205 187h0M209 194h0M251 160h0M288 203h0M263 172h0M209 185h0M245 155h0M281 215h0M285 202h0M261 172h0M293 215h0M215 187h0M205 182h0M277 193h0"/>
<path stroke="#aa0237" d="M281 189h0M261 166h0M282 200h0M190 190h0M264 172h0M253 161h0M285 203h0M166 204h0M193 190h0M246 156h0M299 214h0M279 194h0M283 197h0M200 185h0M257 165h0M293 205h0M287 203h0M278 194h0M265 175h0M273 189h0M290 204h0M278 193h0M289 204h0M263 175h0M272 186h0M297 208h0M257 164h0M164 204h0M275 214h0M291 202h0M286 215h0M271 184h0M200 188h0M184 193h0M278 206h0M289 203h0M272 214h0M286 200h0M202 188h0M261 168h0M277 193h0M153 214h0M169 201h0M286 209h0M283 197h0M170 201h0M206 186h0M263 171h0M272 186h0M289 203h0M273 188h0M206 189h0M288 202h0M188 192h0M279 192h0M206 183h0M243 155h0M258 168h0M283 206h0M282 199h0M155 211h0M258 167h0M215 188h0M240 154h0M286 215h0M212 192h0M284 198h0M286 214h0M203 188h0M188 194h0M261 166h0M194 189h0M273 187h0M297 212h0M241 154h0M176 216h0M298 214h0M279 201h0M287 205h0M158 210h0M268 182h0M204 185h0M273 187h0M278 199h0M180 196h0M272 187h0M297 214h0M292 212h0M172 199h0M164 206h0"/>
<path stroke="#c80426" d="M214 184h0M273 188h0M272 213h0M263 173h0M149 214h0M272 210h0M271 213h0M207 185h0M154 213h0M177 196h0M274 191h0M188 191h0M212 193h0M213 185h0M268 179h0M291 217h0M277 211h0M283 203h0M271 187h0M251 160h0M295 213h0M192 189h0M285 200h0M155 213h0M200 188h0M289 207h0M170 201h0M275 200h0M271 182h0M210 196h0M267 177h0M273 209h0M277 196h0M213 184h0M269 186h0M246 157h0M288 203h0M267 180h0M256 165h0M296 215h0M282 205h0M259 165h0M282 211h0M245 155h0M291 209h0M277 199h0M279 209h0M275 191h0M166 203h0M300 213h0M274 190h0M247 159h0M271 185h0M268 178h0M276 210h0M162 208h0M271 183h0M273 199h0M165 217h0M201 188h0M154 214h0M243 156h0M266 183h0M160 208h0M291 210h0M161 207h0M293 210h0M285 205h0M288 212h0M279 194h0M250 162h0M291 208h0M153 212h0M284 208h0M170 201h0M181 196h0M272 213h0M269 180h0M246 158h0M293 208h0M154 210h0M197 186h0M299 216h0M261 168h0M294 208h0M180 197h0M197 188h0M253 161h0M285 216h0M271 190h0M278 212h0M272 186h0M208 195h0M182 195h0M300 216h0M261 171h0M277 198h0M269 184h0M252 162h0M286 204h0M178 195h0M210 191h0M277 207h0M273 206h0M294 214h0M201 186h0M172 217h0M283 200h0M177 199h0M292 207h0M205 186h0M278 208h0M210 193h0"/>
<path stroke="#db081a" d="M281 198h0M190 192h0M166 217h0M256 167h0M252 160h0M264 177h0M280 197h0M214 191h0M210 192h0M294 215h0M267 176h0M286 202h0M169 201h0M283 210h0M272 187h0M286 204h0M205 190h0M273 209h0M204 186h0M265 177h0M279 202h0M244 157h0M272 191h0M189 192h0M279 213h0M172 199h0M273 190h0M264 177h0M275 197h0M274 211h0M198 187h0M257 167h0M262 168h0M295 207h0M264 170h0M291 205h0M213 188h0M299 216h0M270 193h0M280 200h0M277 193h0M209 201h0M274 207h0M208 185h0M282 203h0M167 203h0M182 195h0M289 207h0M244 155h0M210 197h0M212 196h0M279 200h0M199 187h0M263 175h0M208 183h0M200 188h0M259 172h0M267 184h0M278 200h0M280 199h0M164 205h0M155 212h0M251 162h0M272 198h0M197 192h0M270 189h0M269 189h0M293 215h0M272 190h0M282 209h0M281 197h0M249 159h0M278 202h0M268 190h0M284 215h0M192 192h0M272 198h0M191 191h0M155 214h0M296 216h0M288 204h0M281 207h0M282 206h0M286 203h0M251 161h0M209 188h0M173 217h0M156 211h0M190 192h0M266 177h0M296 215h0M272 213h0M207 186h0M280 213h0M182 216h0M198 188h0M156 211h0M295 210h0M288 207h0M287 211h0M257 168h0M283 204h0M178 216h0M206 187h0M243 158h0M287 205h0M280 211h0M178 217h0M187 195h0M269 184h0M266 178h0M207 192h0M272 198h0M288 215h0M214 190h0M281 212h0M266 190h0M265 184h0M175 199h0M163 205h0M178 198h0M281 201h0M261 171h0M212 188h0M155 216h0M253 165h0M242 162h0M273 192h0M292 215h0M294 210h0"/>
<path stroke="#e20e13" d="M268 186h0M279 201h0M277 214h0M262 173h0M207 185h0M274 206h0M161 209h0M260 172h0M213 191h0M269 212h0M153 217h0M261 171h0M195 192h0M152 214h0M280 201h0M284 209h0M176 200h0M273 212h0M287 203h0M240 156h0M210 187h0M185 215h0M261 176h0M277 206h0M263 174h0M277 196h0M255 164h0M283 208h0M284 200h0M293 210h0M285 207h0M274 206h0M266 186h0M291 206h0M185 216h0M248 161h0M279 198h0M272 212h0M266 211h0M276 203h0M289 208h0M284 206h0M259 169h0M289 216h0M289 208h0M199 191h0M155 214h0M278 214h0M278 214h0M260 166h0M271 212h0M282 213h0M287 210h0M279 209h0M271 189h0M274 203h0M276 210h0M273 212h0M272 214h0M267 190h0M278 193h0M199 188h0M213 188h0M272 192h0M198 192h0M275 201h0M295 212h0M259 167h0M210 186h0M294 209h0M206 195h0M159 216h0M299 214h0M165 205h0M202 187h0M198 190h0M282 204h0M278 211h0M276 190h0M207 189h0M212 192h0M296 211h0M285 214h0M268 181h0M268 185h0M295 212h0M279 204h0M266 186h0M176 197h0M268 212h0M213 190h0M254 168h0M295 214h0M264 181h0M267 187h0M200 189h0M290 210h0M283 208h0M286 210h0M262 170h0M261 174h0M191 193h0M255 166h0M242 159h0M210 197h0M282 203h0M179 217h0M287 208h0M262 175h0M272 199h0M248 161h0M255 164h0M270 186h0M277 208h0M171 216h0M213 196h0M283 212h0M157 211h0M261 176h0M193 190h0M286 209h0M251 163h0M261 179h0M156 211h0M277 197h0M207 188h0M172 217h0M276 207h0M254 164h0M288 211h0M277 212h0M215 192h0M284 204h0M261 172h0M273 200h0M213 188h0M279 200h0M210 189h0M211 191h0M272 191h0M284 207h0M189 192h0M270 209h0M283 205h0M197 190h0M274 194h0M162 206h0M278 200h0M283 203h0M273 197h0M200 190h0M208 193h0M270 198h0M269 212h0M293 211h0M264 176h0M282 203h0M195 192h0M284 204h0M283 204h0M203 189h0M278 207h0M285 203h0M272 197h0M265 185h0M279 209h0M173 217h0M272 214h0M188 191h0M255 167h0M283 213h0M203 188h0"/>
<path stroke="#ea150b" d="M185 216h0M273 199h0M296 210h0M262 177h0M275 207h0M275 214h0M270 187h0M245 161h0M185 193h0M279 215h0M251 161h0M279 203h0M284 208h0M267 182h0M289 212h0M270 212h0M294 210h0M170 201h0M288 206h0M203 190h0M277 196h0M283 212h0M150 215h0M295 210h0M289 212h0M212 189h0M211 187h0M276 213h0M262 175h0M256 205h0M208 201h0M264 179h0M269 185h0M153 215h0M273 204h0M200 191h0M253 164h0M294 216h0M280 199h0M287 210h0M209 186h0M274 196h0M253 168h0M265 177h0M211 190h0M195 190h0M208 189h0M274 204h0M179 216h0M165 205h0M281 206h0M174 217h0M298 215h0M267 188h0M270 200h0M156 215h0M265 186h0M268 184h0M197 190h0M284 213h0M287 209h0M208 194h0M278 196h0M272 200h0M275 207h0M280 205h0M200 191h0M285 212h0M270 187h0M263 178h0M273 209h0M253 163h0M279 202h0M287 207h0M290 208h0M198 193h0M285 208h0M269 213h0M279 210h0M290 212h0M283 207h0M266 179h0M207 189h0M270 194h0M283 214h0M259 173h0M253 204h0M274 208h0M293 210h0M263 178h0M191 194h0M282 201h0M274 206h0M213 195h0M254 164h0M210 189h0M280 197h0M278 199h0M280 199h0M265 178h0M270 212h0M285 205h0M152 216h0M277 196h0M258 169h0M154 214h0M182 197h0M274 203h0M191 192h0M276 200h0M282 207h0M163 207h0M172 200h0M284 212h0M192 192h0M261 176h0M212 188h0M272 204h0M271 202h0M293 212h0M269 194h0M282 213h0M249 160h0M278 210h0M243 158h0M268 183h0M274 211h0M205 192h0M184 215h0M188 195h0M250 160h0M284 216h0M274 205h0M287 211h0M196 190h0M211 188h0M282 211h0M243 161h0M263 172h0M266 180h0M209 198h0M268 185h0M193 192h0M213 192h0M252 168h0"/>
<path stroke="#f11b04" d="M268 183h0M188 195h0M251 165h0M290 213h0M168 203h0M258 174h0M285 209h0M278 207h0M208 191h0M283 208h0M286 207h0M293 208h0M279 212h0M203 188h0M248 161h0M214 191h0M159 216h0M269 199h0M204 190h0M272 206h0M192 195h0M270 192h0M283 210h0M209 200h0M281 209h0M209 198h0M178 199h0M276 210h0M269 196h0M180 195h0M276 214h0M268 208h0M279 208h0M281 208h0M207 190h0M283 212h0M188 214h0M274 198h0M160 216h0M286 206h0M171 216h0M271 203h0M268 187h0M174 201h0M266 184h0M243 157h0M263 181h0M154 214h0M277 213h0M274 201h0M212 197h0M263 211h0M287 214h0M205 202h0M242 160h0M267 187h0M291 211h0M154 214h0M292 211h0M287 210h0M188 195h0M242 163h0M267 189h0M190 214h0M248 161h0M270 192h0M266 187h0M177 198h0M159 211h0M183 214h0M278 211h0M206 190h0M271 203h0M189 195h0M252 163h0M281 208h0M276 206h0M193 192h0M209 200h0M194 213h0M202 189h0M190 196h0M284 209h0M259 174h0M279 203h0M257 167h0M283 201h0M203 207h0M246 160h0M209 194h0M282 205h0M272 190h0M295 211h0M283 205h0M281 213h0M206 192h0M278 208h0M283 207h0M267 212h0M286 210h0M254 167h0M272 201h0M267 185h0M269 207h0M211 188h0M274 212h0M279 208h0M254 204h0M264 210h0M253 166h0M198 189h0M190 194h0M250 199h0M273 200h0M271 198h0M258 170h0M282 211h0M203 192h0M255 168h0M244 160h0M289 210h0M188 214h0M163 216h0M287 209h0M205 188h0M212 191h0"/>
<path stroke="#f62400" d="M180 216h0M211 195h0M180 198h0M171 217h0M266 186h0M263 175h0M253 164h0M260 179h0M197 191h0M262 176h0M208 199h0M251 163h0M202 189h0M249 164h0M274 206h0M272 210h0M203 191h0M207 204h0M189 214h0M281 206h0M247 160h0M156 215h0M248 161h0M258 174h0M254 203h0M259 176h0M267 190h0M284 210h0M203 206h0M280 208h0M206 204h0M206 195h0M161 216h0M292 212h0M201 192h0M207 189h0M204 204h0M216 189h0M281 202h0M274 203h0M205 192h0M264 181h0M253 205h0M250 200h0M272 210h0M264 178h0M190 194h0M199 191h0M181 199h0M279 202h0M275 211h0M267 189h0M245 160h0M245 163h0M172 217h0M251 166h0M161 210h0M210 190h0M204 206h0M273 213h0M283 210h0M154 216h0M213 189h0M202 189h0M256 163h0M206 195h0M276 204h0M247 196h0M278 201h0M275 208h0M192 193h0M267 181h0M190 195h0M250 166h0M207 204h0M206 191h0M252 166h0M265 183h0M271 204h0M157 211h0M210 188h0M273 205h0M267 190h0M269 194h0M255 172h0M194 211h0M182 198h0M272 201h0M245 159h0M242 161h0"/>
<path stroke="#f93100" d="M288 214h0M204 192h0M281 201h0M208 198h0M207 195h0M282 202h0M201 191h0M206 193h0M273 206h0M155 212h0M273 203h0M241 165h0M275 208h0M270 197h0M264 186h0M274 204h0M201 208h0M178 200h0M257 173h0M265 187h0M260 178h0M204 192h0M249 165h0M272 196h0M270 208h0M185 214h0M203 194h0M255 204h0M197 193h0M179 197h0M206 203h0M194 191h0M201 209h0M266 190h0M241 158h0M208 193h0M260 206h0M267 192h0M198 209h0M270 210h0M264 211h0M201 207h0M206 191h0M188 196h0M206 191h0M264 186h0M249 163h0M241 167h0M270 201h0M256 171h0M262 185h0M192 213h0M165 216h0M276 212h0M262 181h0M167 216h0M252 165h0M265 210h0M258 175h0M243 168h0M173 202h0M262 187h0M174 215h0M268 191h0M277 205h0M253 167h0M264 192h0M268 194h0M255 205h0M194 213h0M257 171h0M172 201h0M256 170h0M164 216h0M244 188h0"/>
<path stroke="#fb3d00" d="M257 171h0M173 201h0M261 181h0M262 210h0M161 215h0M242 168h0M177 200h0M208 198h0M247 162h0M158 215h0M205 194h0M167 205h0M249 163h0M263 183h0M269 206h0M261 207h0M189 196h0M187 214h0M193 212h0M203 205h0M263 183h0M177 215h0M201 207h0M255 204h0M253 204h0M159 212h0M252 166h0M266 196h0M183 198h0M245 168h0M247 163h0M183 197h0M248 195h0M187 197h0M252 167h0M198 193h0M273 200h0M269 198h0M187 195h0M261 209h0M270 198h0M157 212h0M201 193h0M257 174h0M266 193h0M249 197h0M242 164h0M205 193h0M270 208h0M199 192h0M254 170h0M255 172h0M190 213h0M206 200h0M204 193h0M272 205h0M186 196h0M191 214h0M158 211h0M163 210h0M170 215h0M196 193h0M246 162h0M200 192h0M246 165h0M201 193h0M206 196h0M250 168h0M269 190h0M182 215h0M241 171h0M161 215h0"/>
<path stroke="#fe4a00" d="M159 212h0M266 208h0M262 188h0M170 203h0M172 215h0M248 197h0M205 201h0M206 197h0M246 162h0M267 199h0M205 201h0M254 171h0M265 189h0M258 175h0M166 208h0M248 195h0M189 214h0M241 176h0M266 206h0M193 211h0M197 192h0M252 169h0M248 197h0M157 215h0M263 187h0M242 178h0M241 173h0M269 206h0M161 214h0M257 173h0M255 173h0M243 172h0M247 194h0M281 210h0M249 199h0M266 193h0M175 216h0M254 171h0M267 208h0M194 212h0M247 164h0M243 164h0M185 214h0M289 211h0M188 196h0M262 184h0M200 207h0M248 197h0M202 204h0M189 214h0M269 195h0M166 206h0M190 212h0M264 193h0M244 188h0M185 196h0M261 185h0M253 202h0M192 195h0M165 208h0M265 198h0M269 206h0M242 163h0M250 198h0M169 216h0M159 216h0M260 206h0M264 207h0M177 215h0M243 173h0M257 201h0M188 196h0M161 211h0M268 200h0M190 213h0M263 207h0M260 203h0M265 206h0M246 167h0M241 164h0M262 207h0M257 205h0M255 175h0M259 201h0M270 205h0M270 203h0M261 184h0M247 164h0M243 172h0M263 208h0M187 196h0M270 203h0M205 197h0M261 206h0M201 193h0M207 197h0"/>
<path stroke="#ff5600" d="M256 206h0M242 167h0M268 208h0M267 210h0M250 168h0M256 203h0M204 201h0M270 204h0M254 203h0M266 198h0M163 209h0M179 200h0M163 212h0M260 182h0M191 195h0M207 199h0M200 193h0M256 174h0M197 195h0M242 162h0M245 187h0M271 205h0M190 212h0M161 208h0M243 164h0M191 211h0M261 207h0M248 167h0M247 192h0M203 193h0M243 180h0M159 211h0M264 200h0M168 206h0M158 215h0M199 206h0M182 215h0M271 207h0M245 165h0M255 174h0M257 204h0M161 210h0M243 165h0M245 193h0M189 212h0M181 198h0M270 200h0M200 195h0M269 202h0M264 192h0M193 196h0M246 193h0M175 215h0M187 198h0M245 189h0M253 170h0M183 198h0M264 207h0M241 170h0M161 214h0M172 215h0M242 166h0M255 175h0M261 207h0M253 202h0M263 187h0M204 203h0M205 199h0M202 195h0M183 214h0M271 203h0M183 214h0M262 208h0M175 203h0"/>
<path stroke="#ff6200" d="M250 197h0M169 215h0M258 206h0M267 196h0M265 198h0M262 189h0M243 178h0M252 200h0M182 200h0M242 172h0M247 195h0M186 196h0M258 206h0M241 166h0M244 174h0M266 204h0M243 185h0M255 177h0M268 206h0M246 167h0M267 208h0M254 169h0M261 203h0M188 198h0M248 169h0M195 210h0M253 201h0M260 205h0M269 201h0M159 213h0M198 208h0M266 206h0M203 204h0M251 166h0M264 195h0M205 199h0M247 195h0M170 204h0M196 210h0M260 205h0M204 194h0M261 184h0M200 192h0M268 204h0M265 195h0M246 192h0M169 204h0M262 208h0M251 173h0M264 186h0M243 182h0M267 202h0M266 197h0M263 186h0M258 202h0M258 181h0M202 198h0M243 167h0M199 206h0M264 200h0M265 206h0M268 206h0M194 195h0M170 214h0M264 203h0M266 190h0M197 194h0M242 170h0M245 168h0M242 176h0M244 170h0M175 214h0M248 164h0M265 200h0M268 202h0"/>
<path stroke="#ff6e00" d="M264 194h0M246 169h0M179 214h0M196 196h0M255 177h0M179 200h0M204 199h0M258 204h0M266 198h0M268 205h0M169 215h0M201 195h0M165 210h0M192 195h0M261 189h0M160 214h0M263 190h0M262 202h0M269 202h0M263 197h0M242 178h0M259 204h0M266 201h0M189 197h0M200 193h0M247 165h0M251 169h0M243 167h0M245 163h0M264 199h0M259 204h0M266 203h0M256 181h0M168 206h0M247 191h0M194 210h0M257 177h0M255 174h0M264 200h0M163 211h0M200 207h0M263 206h0M258 203h0M252 172h0M170 214h0M172 205h0M177 202h0M259 185h0M251 166h0M254 177h0M267 202h0M255 171h0M243 176h0M258 179h0M243 168h0M265 194h0M245 187h0M186 214h0M243 169h0M244 167h0M260 205h0M256 178h0M258 180h0M258 183h0M204 199h0M159 214h0M203 196h0M203 201h0M265 208h0M245 168h0M162 213h0M202 206h0M269 203h0M246 192h0M256 201h0M249 172h0M250 168h0M253 170h0M266 201h0M183 197h0M196 194h0M246 190h0M258 174h0M259 202h0M251 199h0M167 207h0M199 193h0M199 205h0M172 204h0M262 196h0M161 212h0"/>
<path stroke="#ff7a00" d="M199 207h0M204 199h0M182 212h0M259 200h0M165 213h0M256 199h0M247 169h0M176 202h0M255 175h0M244 172h0M245 164h0M261 204h0M263 189h0M188 211h0M167 207h0M176 215h0M193 196h0M245 171h0M265 201h0M248 172h0M176 203h0M161 211h0M250 198h0M253 174h0M252 175h0M204 200h0M259 206h0M193 196h0M261 194h0M184 213h0M203 201h0M198 194h0M201 196h0M252 198h0M250 198h0M257 202h0M259 201h0M202 196h0M256 199h0M255 177h0M201 195h0M263 190h0M263 196h0M265 195h0M263 200h0M244 168h0M249 195h0M252 201h0M181 213h0M248 174h0M247 166h0M246 164h0M161 213h0M196 208h0M253 201h0M266 200h0M162 214h0M257 204h0M191 196h0M250 194h0M250 197h0"/>
<path stroke="#ff8400" d="M255 201h0M257 181h0M242 176h0M256 179h0M168 208h0M252 198h0M250 175h0M193 195h0M251 196h0M265 202h0M188 197h0M245 169h0M244 164h0M199 196h0M268 199h0M164 209h0M264 197h0M176 214h0M261 188h0M253 175h0M262 193h0M263 195h0M257 202h0M265 192h0M246 189h0M260 203h0M249 195h0M255 179h0M195 209h0M249 171h0M181 201h0M202 196h0M243 173h0M243 181h0M192 211h0M198 196h0M265 200h0M168 213h0M163 210h0M199 194h0M244 169h0M266 203h0M261 188h0M249 195h0M246 190h0M261 185h0M243 176h0M251 174h0M257 199h0M261 192h0M261 190h0M178 213h0M262 197h0M265 202h0M263 201h0M245 172h0M253 174h0M178 214h0M260 196h0M197 208h0M261 201h0M244 173h0M246 170h0M246 174h0M261 195h0M198 205h0M191 197h0M257 181h0M166 211h0"/>
<path stroke="#ff8b00" d="M255 200h0M251 174h0M248 171h0M192 208h0M260 195h0M258 188h0M179 213h0M260 194h0M246 189h0M177 215h0M182 213h0M193 208h0M259 188h0M202 199h0M199 196h0M178 202h0M251 197h0M261 192h0M162 213h0M248 173h0M184 214h0M244 179h0M169 210h0M262 190h0M252 175h0M257 202h0M192 211h0M199 204h0M254 199h0M245 185h0M167 207h0M258 182h0M244 186h0M255 200h0M256 199h0M263 194h0M243 178h0M264 206h0M265 201h0M249 174h0M247 191h0M185 213h0M167 210h0M265 200h0M244 178h0M256 198h0M259 193h0M262 200h0M261 204h0M263 194h0M195 206h0M169 207h0M180 213h0M259 185h0M181 214h0M261 195h0M243 167h0M259 204h0M182 213h0M245 188h0M171 205h0M256 199h0M193 197h0M257 180h0M255 180h0M192 199h0"/>
<path stroke="#ff9200" d="M243 175h0M261 199h0M266 202h0M193 197h0M244 176h0M178 214h0M180 213h0M253 198h0M256 200h0M259 198h0M249 171h0M246 186h0M167 212h0M199 197h0M247 188h0M260 194h0M174 215h0M253 200h0M256 201h0M244 180h0M260 198h0M245 186h0M200 195h0M201 196h0M194 208h0M190 210h0M189 211h0M179 212h0M196 196h0M247 171h0M179 201h0M248 191h0M260 191h0M255 201h0M259 195h0M257 183h0M247 191h0M191 209h0M245 184h0M258 189h0M245 181h0M175 206h0M258 185h0M253 177h0M257 187h0M188 198h0M188 211h0M257 188h0"/>
<path stroke="#ff9a00" d="M190 197h0M258 198h0M243 177h0M243 178h0M247 190h0M246 174h0M168 212h0M258 182h0M251 196h0M200 204h0M203 198h0M173 205h0M258 190h0M254 198h0M256 178h0M252 195h0M258 186h0M170 212h0M258 194h0M190 211h0M250 173h0M251 174h0M250 193h0M256 197h0M190 209h0M193 198h0M248 192h0M260 189h0M251 195h0M260 191h0M259 190h0M248 192h0M203 198h0M259 194h0M182 200h0M250 174h0M258 191h0M257 197h0M247 181h0M246 186h0M192 197h0M196 206h0M181 202h0M170 211h0M246 171h0M244 184h0M252 173h0M247 186h0M249 195h0M176 212h0M174 208h0M243 179h0M258 188h0M179 203h0"/>
<path stroke="#ffa100" d="M248 189h0M196 196h0M246 170h0M197 196h0M250 195h0M168 211h0M172 207h0M173 214h0M259 192h0M188 210h0M189 208h0M260 194h0M245 178h0M170 209h0M246 176h0M245 177h0M196 197h0M256 189h0M186 200h0M252 196h0M262 198h0M249 192h0M197 197h0M184 202h0M256 199h0M184 201h0M194 207h0M245 181h0M251 174h0M246 170h0M178 208h0M168 212h0M249 193h0M201 199h0M248 175h0M183 200h0M182 200h0M171 208h0M200 199h0M247 187h0M177 211h0M196 205h0M199 203h0M198 197h0M251 175h0M185 210h0"/>
<path stroke="#ffa900" d="M251 175h0M258 185h0M258 191h0M254 182h0M196 207h0M168 211h0M199 196h0M258 192h0M174 213h0M180 201h0M256 200h0M249 177h0M198 204h0M252 175h0M258 193h0M197 204h0M261 193h0M245 185h0M256 190h0M190 209h0M258 194h0M185 211h0M184 201h0M172 212h0M176 212h0M196 205h0M181 202h0M248 178h0M179 205h0M248 177h0M172 208h0M170 210h0M186 210h0M171 207h0M195 202h0M196 203h0M199 203h0M170 211h0M257 198h0M190 207h0M172 208h0M256 186h0M251 193h0M199 196h0M248 177h0M189 206h0M257 190h0M253 179h0M199 197h0"/>
<path stroke="#ffb100" d="M177 209h0M250 190h0M250 194h0M171 212h0M177 204h0M197 201h0M255 189h0M196 204h0M248 186h0M185 210h0M182 201h0M249 187h0M188 207h0M249 191h0M175 204h0M252 190h0M181 211h0M196 200h0M172 211h0M174 213h0M248 176h0M199 198h0M194 202h0M255 193h0M192 205h0M170 210h0M258 196h0M257 191h0M177 204h0M174 211h0M200 199h0M198 203h0M245 178h0M244 178h0M184 202h0M173 207h0M257 189h0M180 203h0M247 178h0M190 207h0M255 188h0M175 213h0M185 208h0M183 210h0M191 206h0M256 188h0M251 183h0M196 203h0M248 180h0M188 208h0M179 210h0M176 205h0M245 178h0"/>
<path stroke="#ffb900" d="M201 201h0M250 178h0M200 201h0M183 201h0M256 193h0M178 210h0M179 204h0M194 205h0M178 209h0M189 206h0M173 208h0M250 186h0M250 191h0M179 203h0M177 207h0M253 198h0M192 204h0M248 190h0M256 196h0M194 199h0M255 184h0M185 210h0M180 202h0M195 201h0M172 211h0M180 208h0M246 183h0M176 210h0M251 187h0M258 191h0M246 181h0M182 201h0M247 176h0M172 208h0M196 198h0M179 205h0M179 202h0M180 204h0M194 206h0M250 184h0M185 209h0M250 185h0M196 204h0M185 206h0M255 191h0M179 209h0M184 208h0M194 204h0M190 207h0M182 210h0M248 184h0M246 178h0M198 200h0M183 202h0M250 180h0M256 184h0M177 211h0M184 205h0M254 189h0M193 201h0M256 188h0M178 208h0M198 203h0M254 184h0M254 184h0M198 204h0M252 190h0M173 210h0M195 200h0M178 211h0M193 200h0M177 205h0"/>
<path stroke="#ffc100" d="M255 189h0M252 189h0M255 190h0M195 205h0M253 195h0M246 178h0M249 179h0M201 201h0M198 199h0M188 205h0M252 185h0M249 177h0M251 188h0M194 198h0M254 187h0M186 202h0M255 188h0M255 190h0M248 180h0M173 212h0M180 205h0M247 177h0M175 204h0M251 183h0M195 199h0M245 181h0M255 193h0M248 182h0M175 208h0M179 212h0M257 196h0M254 196h0M200 202h0M183 206h0M185 205h0M251 189h0M250 185h0M254 192h0M252 179h0M254 188h0M198 203h0M174 211h0M177 208h0M195 202h0M185 204h0M251 186h0M186 209h0M191 199h0M254 183h0M258 195h0M251 185h0M250 192h0M175 207h0M188 208h0M173 208h0M248 181h0"/>
<path stroke="#ffc900" d="M192 205h0M194 200h0M192 203h0M186 200h0M191 201h0M180 206h0M197 202h0M172 208h0M179 204h0M250 177h0M181 209h0M254 193h0M251 187h0M250 188h0M249 186h0M249 187h0M255 187h0M183 206h0M176 211h0M250 187h0M185 204h0M189 207h0M198 200h0M182 208h0M251 186h0M195 198h0M255 187h0M249 186h0M249 185h0M256 187h0M187 204h0M254 194h0M182 205h0M176 211h0M173 212h0M186 205h0M193 204h0M172 207h0M183 203h0M256 193h0M251 191h0M191 200h0M196 201h0M246 178h0M183 211h0M253 190h0M176 210h0M256 188h0M249 180h0M252 185h0M253 195h0M179 207h0M184 208h0M178 205h0M251 185h0M249 178h0M250 181h0M181 206h0M190 205h0M190 206h0M176 209h0M255 194h0M173 209h0M254 190h0M186 206h0M185 209h0M193 205h0M251 185h0M183 207h0M186 206h0M194 199h0M253 192h0M195 200h0M176 206h0M182 207h0M187 202h0M252 192h0M255 189h0M182 206h0M193 203h0M190 203h0M251 180h0M251 190h0M251 190h0M250 186h0M187 204h0M180 208h0M187 204h0M249 185h0M254 193h0M191 201h0M191 201h0M249 187h0M172 209h0M178 205h0M180 208h0M182 206h0M183 205h0M255 192h0M190 205h0M187 207h0M174 208h0M191 202h0M250 186h0M182 209h0M191 204h0M250 183h0M184 208h0M251 185h0M178 207h0M178 209h0M195 202h0M251 182h0M185 206h0M177 205h0M190 201h0M186 204h0M183 206h0M182 206h0M194 203h0M184 205h0M195 200h0M252 192h0M251 184h0"/>
</g>
<text x="0" y="29.5" font-size="20" font-weight="bold">a</text>
<text x="34.5" y="28" font-size="15.8" font-weight="bold">3' UTR lengthening</text>
<g stroke="#000" stroke-width="1.25" fill="none">
<path d="M53.3 55.3V221.4"/>
<path d="M44.5 220.8H53.3"/>
<path d="M44.5 193.3H53.3"/>
<path d="M44.5 165.8H53.3"/>
<path d="M44.5 138.4H53.3"/>
<path d="M44.5 110.9H53.3"/>
<path d="M44.5 83.4H53.3"/>
<path d="M44.5 55.9H53.3"/>
<path d="M110.0 229.6H351.8"/>
<path d="M110.6 229.6V238"/>
<path d="M230.9 229.6V238"/>
<path d="M351.2 229.6V238"/>
</g>
<g font-size="13.5" text-anchor="middle" class="t">
<text transform="translate(39.6 220.8) rotate(-90)">0</text>
<text transform="translate(39.6 193.3) rotate(-90)">1</text>
<text transform="translate(39.6 165.8) rotate(-90)">2</text>
<text transform="translate(39.6 138.4) rotate(-90)">3</text>
<text transform="translate(39.6 110.9) rotate(-90)">4</text>
<text transform="translate(39.6 83.4) rotate(-90)">5</text>
<text transform="translate(39.6 55.9) rotate(-90)">6</text>
<text x="110.6" y="254.2">−5</text>
<text x="230.9" y="254.2">0</text>
<text x="351.2" y="254.2">5</text>
<text x="230.6" y="271.7">Bin log2(foldchange)</text>
<text transform="translate(14.7 135.8) rotate(-90)">Bin mean log(CPM)</text>
</g>
<text x="391" y="16.3" font-size="20" font-weight="bold">b</text>
<g stroke="#000" stroke-width="1.25" fill="none">
<path d="M461.4 7.2V268.5H764.9"/>
<path d="M458 135.2H461.4"/>
<path d="M616.4 268.5V272"/>
<path d="M458 82.4H461.4"/>
<path d="M677.7 268.5V272"/>
<path d="M458 41.9H461.4"/>
<path d="M724.7 268.5V272"/>
<path d="M458 7.8H461.4"/>
<path d="M764.4 268.5V272"/>
</g>
<g font-size="11" class="t">
<text x="455" y="139.1" text-anchor="end">0.25</text>
<text x="616.4" y="283.2" text-anchor="middle">0.25</text>
<text x="455" y="86.3" text-anchor="end">0.50</text>
<text x="677.7" y="283.2" text-anchor="middle">0.50</text>
<text x="455" y="45.8" text-anchor="end">0.75</text>
<text x="724.7" y="283.2" text-anchor="middle">0.75</text>
<text x="455" y="11.7" text-anchor="end">1.00</text>
<text x="764.4" y="283.2" text-anchor="middle">1.00</text>
</g>
<text transform="translate(426.7 135) rotate(-90)" font-size="14" text-anchor="middle" stroke="#000" stroke-width="0.3">TPR</text>
<text x="616.3" y="299.4" font-size="14" text-anchor="middle" stroke="#000" stroke-width="0.3">FPR</text>
<g fill="none" stroke-linejoin="miter" stroke-linecap="butt">
<path d="M468.4 262.5L764.4 7.8" stroke="#cfcfcf" stroke-width="1.3" stroke-dasharray="4.5 4.5"/>
<path d="M468.4 262.5L504.3 262.5L504.3 205.5L602.2 205.5L602.2 182.0L614.2 182.0L614.2 163.9L648.2 163.9L648.2 148.6L657.5 148.6L657.5 123.0L673.0 123.0L673.0 111.8L688.5 111.8L693.0 91.6L720.0 91.6L720.0 73.6L729.0 73.6L729.0 65.2L764.4 7.8" stroke="#cc5c78" stroke-width="3.4" stroke-dasharray="10.7 12.5"/>
<circle cx="497.3" cy="262.5" r="4.5" fill="#cc5c78" stroke="none"/><circle cx="548.4" cy="205.5" r="4.5" fill="#cc5c78" stroke="none"/>
<path d="M468.4 262.5L515.6 262.5L515.6 205.5L583.3 205.5L583.3 182.0L598.2 182.0L598.2 163.9L606.3 163.9L606.3 135.2L614.7 135.2L614.7 123.0L623.4 123.0L623.4 111.8L649.4 111.8L649.4 101.4L666.0 101.4L666.0 91.6L671.0 91.6L671.0 82.4L701.0 82.4L701.0 73.6L704.0 73.6L704.0 65.2L706.6 65.2L706.6 57.2L709.5 57.2L709.5 49.4L713.5 49.4L713.5 41.9L716.8 41.9L716.8 34.7L719.3 34.7L719.3 27.7L747.0 27.7L747.0 20.9L756.5 20.9L764.4 7.8" stroke="#ff0000" stroke-width="3.4"/>
<circle cx="525.6" cy="205.5" r="4.5" fill="#ff0000" stroke="none"/><circle cx="561.2" cy="205.5" r="4.5" fill="#ff0000" stroke="none"/><circle cx="589.3" cy="182.0" r="4.5" fill="#ff0000" stroke="none"/>
<circle cx="468.4" cy="262.5" r="4.5" fill="#aaaaaa" stroke="none"/>
<path d="M468.4 262.5L641.0 135.2L649.0 135.2L650.6 123.0L679.2 99.3L683.0 82.4L702.6 82.4L704.5 77.0L717.5 55.0L721.2 41.9L730.5 41.9L730.5 27.7L764.4 7.8" stroke="#aaaaaa" stroke-width="3.4"/>
<path d="M468.4 262.5L517.7 262.5L517.7 205.5L530.8 205.5L530.8 182.0L557.0 182.0L557.0 163.9L586.0 163.9L586.0 148.6L599.0 148.6L599.0 123.0L617.0 123.0L617.0 111.8L637.2 111.8L637.2 101.4L661.5 101.4L661.5 82.4L676.8 82.4L676.8 73.6L692.6 73.6L692.6 65.2L704.2 65.2L704.2 57.2L717.5 57.2L717.5 49.4L730.5 49.4L730.5 34.7L745.6 34.7L745.6 7.8L764.4 7.8" stroke="#ffa500" stroke-width="3.4" stroke-dasharray="10.7 12.5"/>
<circle cx="584.7" cy="163.9" r="4.5" fill="#ffa500" stroke="none"/><circle cx="608.2" cy="123.0" r="4.5" fill="#ffa500" stroke="none"/><circle cx="626.0" cy="111.8" r="4.5" fill="#ffa500" stroke="none"/>
<path d="M468.4 262.5L494.4 182.0L500.2 182.0L500.2 148.6L544.9 148.6L544.9 135.2L600.6 135.2L600.6 123.0L616.9 123.0L616.9 111.8L626.0 111.8L626.0 101.4L648.0 101.4L648.0 91.6L654.0 91.6L654.0 82.4L661.7 82.4L661.7 73.6L669.3 73.6L669.3 57.2L672.8 57.2L672.8 49.4L688.4 49.4L688.4 41.9L707.7 41.9L707.7 34.7L764.4 7.8" stroke="#1d7a3c" stroke-width="3.4"/>
<circle cx="553.0" cy="135.2" r="4.5" fill="#2e2589" stroke="none"/><circle cx="584.7" cy="123.0" r="4.5" fill="#2e2589" stroke="none"/><circle cx="602.5" cy="111.8" r="4.5" fill="#2e2589" stroke="none"/>
<circle cx="557.7" cy="135.2" r="4.5" fill="#1d7a3c" stroke="none"/><circle cx="576.2" cy="135.2" r="4.5" fill="#1d7a3c" stroke="none"/><circle cx="591.3" cy="135.2" r="4.5" fill="#1d7a3c" stroke="none"/>
<path d="M468.4 262.5L468.4 182.0L501.2 182.0L501.2 163.9L505.8 163.9L505.8 148.6L523.1 148.6L523.1 135.2L568.1 135.2L568.1 123.0L602.5 123.0L602.5 101.4L626.8 101.4L626.8 91.6L638.8 91.6L638.8 82.4L644.6 82.4L644.6 73.6L665.9 73.6L665.9 65.2L690.9 65.2L690.9 57.2L701.9 57.2L701.9 49.4L712.3 49.4L712.3 34.7L715.0 34.7L764.4 7.8" stroke="#2e2589" stroke-width="3.4"/>
</g>
<text x="668.8" y="162.8" font-size="13" class="t">method</text>
<path d="M671.5 175.5H697.3" stroke="#1d7a3c" stroke-width="3.6"/>
<text x="700.6" y="179.2" font-size="11" class="t">DEXSeq</text>
<path d="M671.5 190.5H697.3" stroke="#2e2589" stroke-width="3.6"/>
<text x="700.6" y="194.2" font-size="11" class="t">diffSplice2</text>
<path d="M671.5 212.5H687.8" stroke="#cc5c78" stroke-width="3.6"/>
<text x="700.6" y="216.2" font-size="11" class="t">QAPA.pval</text>
<path d="M671.5 227.5H697.3" stroke="#aaaaaa" stroke-width="3.6"/>
<text x="700.6" y="231.2" font-size="11" class="t">APAlyzer</text>
<path d="M671.5 242.2H687.8" stroke="#ffa500" stroke-width="3.6"/>
<text x="700.6" y="245.89999999999998" font-size="11" class="t">DaPars</text>
<path d="M671.5 257H697.3" stroke="#ff0000" stroke-width="3.6"/>
<text x="700.6" y="260.7" font-size="11" class="t">CSI−UTR <tspan font-size="10.1">(DEXSeq)</tspan></text>
<path d="M759.4 171.3V194.4" stroke="#444" stroke-width="1"/>
<text transform="translate(769.6 182.7) rotate(-90)" font-size="10.3" text-anchor="middle" fill="#333">diffUTR</text>
</svg></body></html>
